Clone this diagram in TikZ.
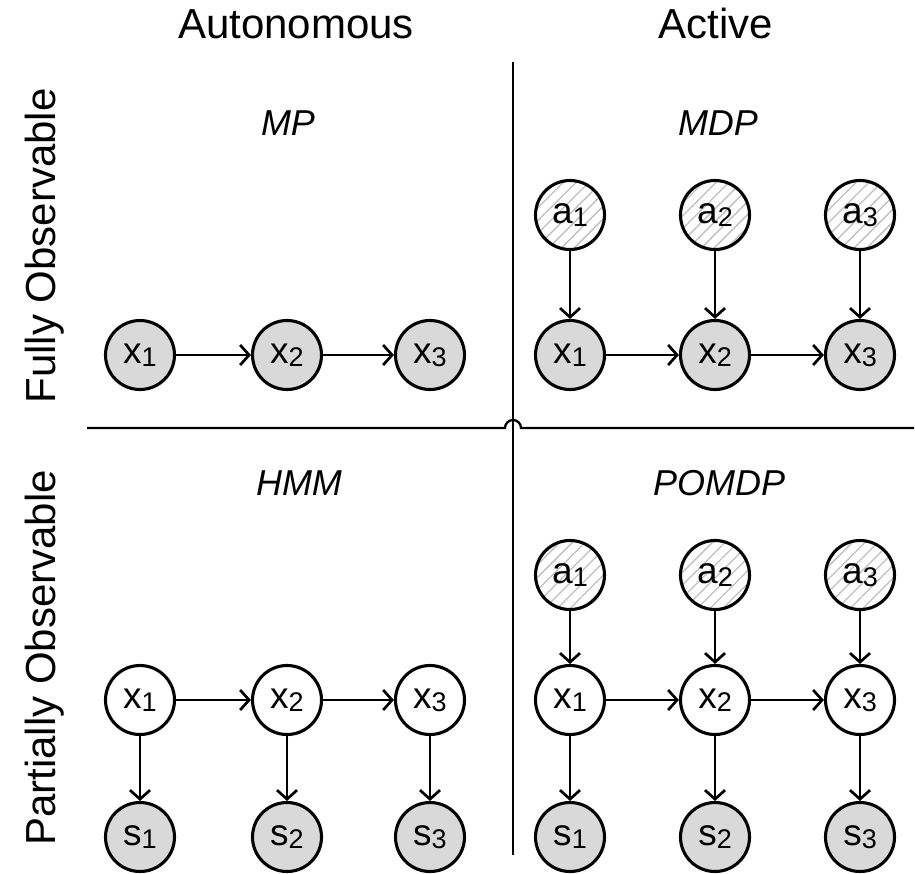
\documentclass[tikz,border=0pt]{standalone}
\usepackage{fontspec}
\setmainfont{Liberation Sans}
\usetikzlibrary{arrows.meta,patterns.meta}

% variable label: letter with a lowered index
\newcommand\varlbl[2]{#1{\fontsize{27}{27}\selectfont\raisebox{-3pt}{#2}}}

\begin{document}
\begin{tikzpicture}[x=1pt,y=1pt,
  var/.style={circle,draw,line width=3.1pt,minimum size=69pt,inner sep=0pt,
    font=\fontsize{37}{40}\selectfont},
  obsvar/.style={var,fill=black!15},
  hidvar/.style={var,fill=white},
  actvar/.style={var,fill=white,
    pattern={Lines[angle=45,distance=9pt,line width=1.3pt]},pattern color=black!25},
  arr/.style={line width=2.7pt,-{Straight Barb[length=9pt,width=20pt]}},
  divider/.style={line width=2.3pt},
  header/.style={anchor=base,font=\fontsize{42}{48}\selectfont},
  modelname/.style={anchor=base,font=\fontsize{36}{42}\selectfont\itshape}]

\useasboundingbox (0,0) rectangle (915,-873);

% quadrant dividers, the horizontal one hopping over the vertical one
\coordinate (vtop) at (513,-62);
\coordinate (vbot) at (513,-855);
\coordinate (hl) at (87,-428);
\coordinate (hr) at (914,-428);
\coordinate (hopl) at (505,-428);
\coordinate (hopr) at (521,-428);
\draw[divider] (vtop) -- (vbot);
\draw[divider] (hl) -- (hopl) arc[start angle=180,end angle=0,radius=8] -- (hr);

% headers
\node[header] (hauto) at (296,-38) {Autonomous};
\node[header] (hact) at (716,-38) {Active};
\node[header,rotate=90] (hfull) at (55,-246) {Fully Observable};
\node[header,rotate=90] (hpart) at (55,-658) {Partially Observable};

% model names
\node[modelname] (nmp) at (288,-135) {MP};
\node[modelname] (nmdp) at (718,-135) {MDP};
\node[modelname] (nhmm) at (299,-495) {HMM};
\node[modelname] (npomdp) at (719,-495) {POMDP};

% MP
\node[obsvar] (mpx1) at (140,-355) {\varlbl{x}{1}};
\node[obsvar] (mpx2) at (287,-355) {\varlbl{x}{2}};
\node[obsvar] (mpx3) at (430,-355) {\varlbl{x}{3}};
\draw[arr] (mpx1) -- (mpx2);
\draw[arr] (mpx2) -- (mpx3);

% MDP
\node[actvar] (mdpa1) at (570,-215) {\varlbl{a}{1}};
\node[actvar] (mdpa2) at (715,-215) {\varlbl{a}{2}};
\node[actvar] (mdpa3) at (860,-215) {\varlbl{a}{3}};
\node[obsvar] (mdpx1) at (570,-355) {\varlbl{x}{1}};
\node[obsvar] (mdpx2) at (715,-355) {\varlbl{x}{2}};
\node[obsvar] (mdpx3) at (860,-355) {\varlbl{x}{3}};
\draw[arr] (mdpx1) -- (mdpx2);
\draw[arr] (mdpx2) -- (mdpx3);
\draw[arr] (mdpa1) -- (mdpx1);
\draw[arr] (mdpa2) -- (mdpx2);
\draw[arr] (mdpa3) -- (mdpx3);

% HMM
\node[hidvar] (hmmx1) at (140,-700) {\varlbl{x}{1}};
\node[hidvar] (hmmx2) at (287,-700) {\varlbl{x}{2}};
\node[hidvar] (hmmx3) at (430,-700) {\varlbl{x}{3}};
\node[obsvar] (hmms1) at (140,-837) {\varlbl{s}{1}};
\node[obsvar] (hmms2) at (287,-837) {\varlbl{s}{2}};
\node[obsvar] (hmms3) at (430,-837) {\varlbl{s}{3}};
\draw[arr] (hmmx1) -- (hmmx2);
\draw[arr] (hmmx2) -- (hmmx3);
\draw[arr] (hmmx1) -- (hmms1);
\draw[arr] (hmmx2) -- (hmms2);
\draw[arr] (hmmx3) -- (hmms3);

% POMDP
\node[actvar] (pa1) at (570,-575) {\varlbl{a}{1}};
\node[actvar] (pa2) at (715,-575) {\varlbl{a}{2}};
\node[actvar] (pa3) at (860,-575) {\varlbl{a}{3}};
\node[hidvar] (px1) at (570,-700) {\varlbl{x}{1}};
\node[hidvar] (px2) at (715,-700) {\varlbl{x}{2}};
\node[hidvar] (px3) at (860,-700) {\varlbl{x}{3}};
\node[obsvar] (ps1) at (570,-837) {\varlbl{s}{1}};
\node[obsvar] (ps2) at (715,-837) {\varlbl{s}{2}};
\node[obsvar] (ps3) at (860,-837) {\varlbl{s}{3}};
\draw[arr] (px1) -- (px2);
\draw[arr] (px2) -- (px3);
\draw[arr] (pa1) -- (px1);
\draw[arr] (pa2) -- (px2);
\draw[arr] (pa3) -- (px3);
\draw[arr] (px1) -- (ps1);
\draw[arr] (px2) -- (ps2);
\draw[arr] (px3) -- (ps3);
\end{tikzpicture}
\end{document}
